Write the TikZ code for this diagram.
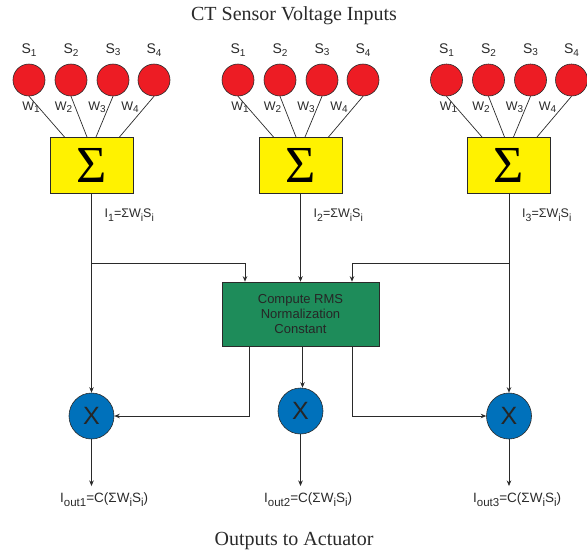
\documentclass[tikz,border=0pt]{standalone}
\usepackage{fontspec}
\setmainfont{Liberation Serif}
\newfontfamily\arial{Liberation Sans}
\usetikzlibrary{arrows.meta,shapes.geometric}
\definecolor{sred}{HTML}{ED1C24}
\definecolor{syel}{HTML}{FFF200}
\definecolor{sgreen}{HTML}{1E8C5A}
\definecolor{sblue}{HTML}{0071BB}
\definecolor{sline}{HTML}{2A2A2A}
\newcommand\lsub[1]{\raisebox{-0.3ex}{\fontsize{10}{10}\selectfont #1}}
\newcommand\dsub[1]{\raisebox{-0.6ex}{\fontsize{10.5}{10.5}\selectfont #1}}
\newcommand\osub[1]{\raisebox{-0.6ex}{\fontsize{11.5}{11.5}\selectfont #1}}
\begin{document}
\begin{tikzpicture}[x=1pt,y=-1pt,
  lbl/.style={font=\arial\fontsize{14}{14}\selectfont, inner sep=0, text=sline},
  wl/.style={font=\arial\fontsize{12.5}{12.5}\selectfont, inner sep=0, text=sline},
  il/.style={font=\arial\fontsize{12.5}{12.5}\selectfont, inner sep=0, text=sline, anchor=west},
  ol/.style={font=\arial\fontsize{13.5}{13.5}\selectfont, inner sep=0, text=sline, anchor=west},
  ttl/.style={font=\fontsize{20}{20}\selectfont, inner sep=0, text=sline},
  sensor/.style={circle, draw=sline, fill=sred, minimum size=32pt, inner sep=0, line width=0.6pt},
  sumbox/.style={draw=sline, fill=syel, minimum width=83pt, minimum height=56pt, inner sep=0, line width=0.6pt, font=\fontsize{52}{52}\selectfont},
  gbox/.style={draw=sline, fill=sgreen, minimum width=157pt, minimum height=64pt, inner sep=0, line width=0.6pt, align=center, font=\arial\fontsize{13}{15}\selectfont, text=black!85},
  mult/.style={ellipse, draw=sline, fill=sblue, minimum width=45pt, minimum height=46pt, inner sep=0, line width=0.6pt, font=\arial\fontsize{25}{25}\selectfont, text=black!85},
  conn/.style={draw=sline, line width=0.7pt},
  arr/.style={conn, -{Stealth[length=5.5pt,width=4.5pt]}}
]
\useasboundingbox (0,0) rectangle (587,558);
\node[ttl] (title) at (294,16) {CT Sensor Voltage Inputs};
\node[ttl] (outtitle) at (294,541) {Outputs to Actuator};

\foreach \g/\cx in {1/91.5, 2/300.5, 3/509}{
  \node[sumbox] (b\g) at (\cx,165) {Σ};
  \foreach \i/\dx/\tx/\wx in {1/-62.5/-27/-60.5, 2/-20.5/-4.5/-28, 3/21.5/4.5/5.5, 4/62.5/28/38.5}{
    \node[sensor] (s\g\i) at ({\cx+\dx},80) {};
    \coordinate (t\g\i) at ({\cx+\tx},137);
    \draw[conn] (s\g\i.south) -- (t\g\i);
    \node[wl] (w\g\i) at ({\cx+\wx},107) {W\lsub{\i}};
    \node[lbl] (sl\g\i) at ({\cx+\dx},50) {S\lsub{\i}};
  }
  \node[il] (i\g) at ({\cx+13},215) {I\dsub{\g}=ΣW\dsub{i}S\dsub{i}};
}

\node[gbox] (rms) at (300.5,314) {Compute RMS\\Normalization\\Constant};
\node[mult] (x1) at (91.5,416) {X};
\node[mult] (x2) at (300.5,411) {X};
\node[mult] (x3) at (509,416) {X};

\coordinate (j1) at (91.5,263);
\coordinate (j3) at (509,263);
\draw[arr] (b1) -- (x1);
\draw[arr] (b3) -- (x3);
\draw[arr] (b2) -- (rms);
\draw[arr] (j1) -| ([xshift=-55.5]rms.north);
\draw[arr] (j3) -| ([xshift=51.5]rms.north);

\draw[arr] ([xshift=-51.5]rms.south) |- (x1);
\draw[arr] ([xshift=2]rms.south) -- ([xshift=2]x2.north);
\draw[arr] ([xshift=51.5]rms.south) |- (x3);

\coordinate (o1) at (91.5,486);
\coordinate (o2) at (300.5,486);
\coordinate (o3) at (509,486);
\draw[arr] (x1) -- (o1);
\draw[arr] (x2) -- (o2);
\draw[arr] (x3) -- (o3);
\node[ol] (out1) at (60,500) {I\osub{out1}=C(ΣW\osub{i}S\osub{i})};
\node[ol] (out2) at (264,500) {I\osub{out2}=C(ΣW\osub{i}S\osub{i})};
\node[ol] (out3) at (473,500) {I\osub{out3}=C(ΣW\osub{i}S\osub{i})};
\end{tikzpicture}
\end{document}
